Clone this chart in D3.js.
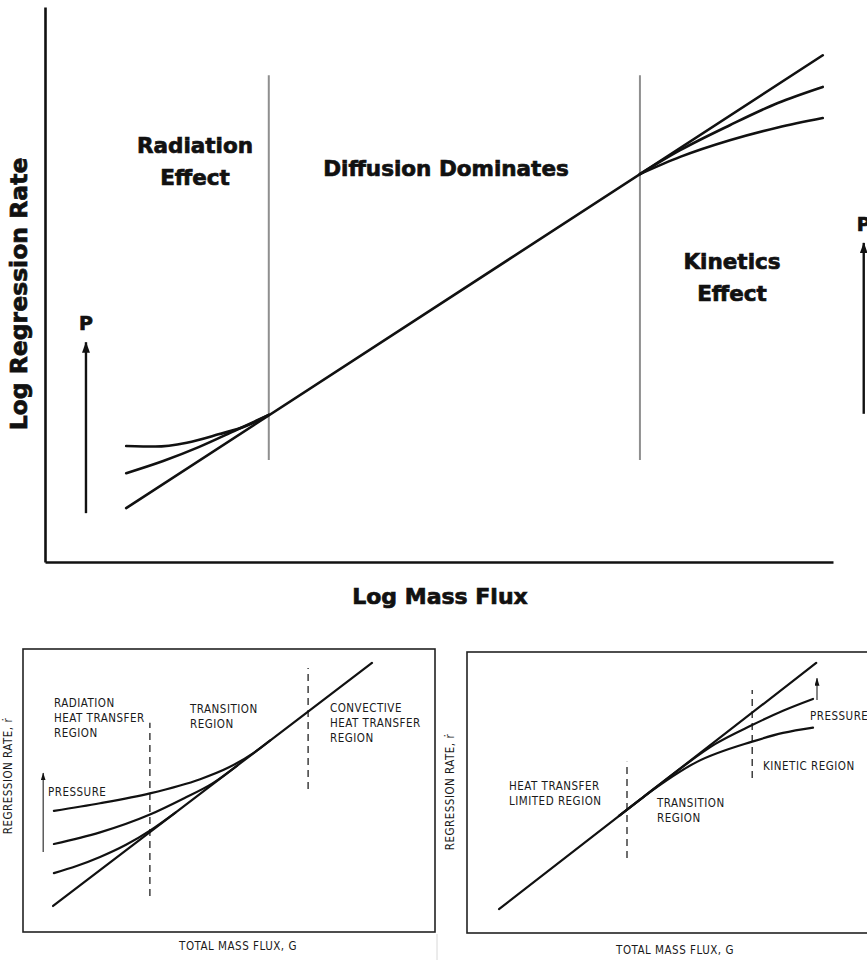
<!DOCTYPE html>
<html>
<head>
<meta charset="utf-8">
<script src="https://cdn.jsdelivr.net/npm/d3@7"></script>
<style>
  html, body { margin: 0; padding: 0; background: #fff; }
  svg { display: block; }
</style>
</head>
<body>
<svg id="chart" width="867" height="960"></svg>
<script>
// ---------- Upper panel: log regression rate vs log mass flux (schematic units 0-10) ----------
const upperDiffusionLine = [[1.03, 0.97], [9.87, 9.13]];
const upperRadiationCurves = [
  [[1.03, 2.09], [1.40, 2.08], [1.80, 2.15], [2.20, 2.30], [2.55, 2.45], [2.84, 2.65]],
  [[1.03, 1.60], [1.50, 1.82], [1.95, 2.07], [2.40, 2.36], [2.84, 2.65]]
];
const upperKineticsCurves = [
  [[7.55, 6.99], [8.06, 7.42], [8.69, 7.87], [9.30, 8.27], [9.87, 8.56]],
  [[7.55, 6.99], [8.06, 7.30], [8.69, 7.60], [9.30, 7.83], [9.87, 8.00]]
];
const upperBoundaries = [2.84, 7.55];
const upperBoundarySpan = [1.84, 8.77];
const upperPressureArrows = [
  { x: 0.52, from: 0.88, to: 3.96 },
  { x: 10.39, from: 2.67, to: 5.75 }
];
const upperRegionLabels = [
  { lines: ["Radiation", "Effect"] },
  { lines: ["Diffusion Dominates"] },
  { lines: ["Kinetics", "Effect"] }
];
const upperAxisTitles = ["Log Mass Flux", "Log Regression Rate"];

// ---------- Lower-left panel: radiation / convective heat transfer ----------
const leftConvectiveLine = [[0.73, 0.92], [8.47, 9.51]];
const leftPressureCurves = [
  [[0.75, 4.28], [1.87, 4.55], [3.08, 4.90], [4.30, 5.40], [5.00, 5.82], [5.60, 6.33], [6.00, 6.77]],
  [[0.75, 3.11], [1.87, 3.52], [3.08, 4.15], [3.90, 4.72], [4.60, 5.25], [5.20, 5.88]],
  [[0.75, 2.08], [1.30, 2.33], [1.87, 2.65], [2.50, 3.08], [3.10, 3.60], [3.70, 4.22]]
];
const leftBoundaries = [
  { x: 3.08, from: 1.27, to: 7.39 },
  { x: 6.92, from: 5.05, to: 9.33 }
];
const leftPressureArrow = { x: 0.49, from: 2.83, to: 5.62 };
const leftRegionLabels = [
  ["RADIATION", "HEAT TRANSFER", "REGION"],
  ["TRANSITION", "REGION"],
  ["CONVECTIVE", "HEAT TRANSFER", "REGION"]
];

// ---------- Lower-right panel: heat-transfer limited vs kinetic ----------
const rightHeatTransferLine = [[0.80, 0.85], [8.73, 9.61]];
const rightPressureCurves = [
  [[3.80, 4.17], [4.40, 4.83], [5.20, 5.71], [6.20, 6.72], [7.13, 7.40], [7.90, 7.91], [8.65, 8.33]],
  [[3.80, 4.17], [4.40, 4.83], [5.75, 6.09], [7.13, 6.81], [7.90, 7.12], [8.65, 7.31]]
];
const rightBoundaries = [
  { x: 4.00, from: 2.67, to: 6.09 },
  { x: 7.13, from: 5.52, to: 8.65 }
];
const rightPressureArrow = { x: 8.75, from: 8.29, to: 9.07 };
const rightRegionLabels = [
  ["HEAT TRANSFER", "LIMITED REGION"],
  ["TRANSITION", "REGION"],
  ["KINETIC REGION"],
  ["PRESSURE"]
];
const lowerAxisTitles = ["TOTAL MASS FLUX, G", "REGRESSION RATE, \u1E59"];

// ---------- drawing ----------
const svg = d3.select("#chart");
const boldFont = "'DejaVu Sans', 'Liberation Sans', sans-serif";
const typeFont = "'Liberation Sans Narrow', 'DejaVu Sans Condensed', 'Liberation Sans', sans-serif";

const defs = svg.append("defs");
function arrowHead(id, len, wid) {
  defs.append("marker")
    .attr("id", id)
    .attr("viewBox", `0 0 ${len} ${wid}`)
    .attr("refX", len - 0.5).attr("refY", wid / 2)
    .attr("markerWidth", len).attr("markerHeight", wid)
    .attr("markerUnits", "userSpaceOnUse")
    .attr("orient", "auto")
    .append("path").attr("d", `M0,0 L${len},${wid / 2} L0,${wid} Z`).attr("fill", "#111");
}
arrowHead("headLarge", 11, 8);
arrowHead("headSmall", 8, 5);

function drawCurve(g, x, y, pts, width, curve) {
  const gen = d3.line().x(d => x(d[0])).y(d => y(d[1])).curve(curve || d3.curveMonotoneX);
  g.append("path").attr("d", gen(pts))
    .attr("fill", "none").attr("stroke", "#111").attr("stroke-width", width)
    .attr("stroke-linecap", "round");
}

function heavyText(sel, size) {
  return sel.attr("font-family", boldFont).attr("font-weight", "bold")
    .attr("font-size", size).attr("fill", "#111")
    .attr("stroke", "#111").attr("stroke-width", 0.7).attr("paint-order", "stroke");
}

// Upper panel
{
  const x = d3.scaleLinear().domain([0, 10]).range([45, 833]);
  const y = d3.scaleLinear().domain([0, 10]).range([562, 7]);
  const g = svg.append("g");

  g.append("g").attr("transform", `translate(0,${y(0)})`)
    .call(d3.axisBottom(x).ticks(0).tickSizeOuter(0))
    .call(s => s.select(".domain").attr("stroke", "#111").attr("stroke-width", 2.6));
  g.append("g").attr("transform", `translate(${x(0)},0)`)
    .call(d3.axisLeft(y).ticks(0).tickSizeOuter(0))
    .call(s => s.select(".domain").attr("stroke", "#111").attr("stroke-width", 2.6));

  upperBoundaries.forEach(b => {
    g.append("line").attr("x1", x(b)).attr("x2", x(b))
      .attr("y1", y(upperBoundarySpan[0])).attr("y2", y(upperBoundarySpan[1]))
      .attr("stroke", "#8f8f8f").attr("stroke-width", 2);
  });

  drawCurve(g, x, y, upperDiffusionLine, 2.6, d3.curveLinear);
  upperRadiationCurves.forEach(c => drawCurve(g, x, y, c, 2.6));
  upperKineticsCurves.forEach(c => drawCurve(g, x, y, c, 2.6));

  upperPressureArrows.forEach(a => {
    g.append("line").attr("x1", x(a.x)).attr("x2", x(a.x))
      .attr("y1", y(a.from)).attr("y2", y(a.to))
      .attr("stroke", "#111").attr("stroke-width", 2.4)
      .attr("marker-end", "url(#headLarge)");
    heavyText(g.append("text").attr("x", x(a.x)).attr("y", y(a.to) - 12)
      .attr("text-anchor", "middle"), 19).text("P");
  });

  const labelPos = [[195, 153], [446, 176], [732, 269]];
  upperRegionLabels.forEach((l, i) => {
    const t = heavyText(g.append("text").attr("text-anchor", "middle"), 21.5);
    l.lines.forEach((s, j) => t.append("tspan").attr("x", labelPos[i][0])
      .attr("y", labelPos[i][1] + j * 32).text(s));
  });

  heavyText(g.append("text").attr("x", 440).attr("y", 604).attr("text-anchor", "middle"), 22)
    .text(upperAxisTitles[0]);
  heavyText(g.append("text").attr("transform", "translate(27,294) rotate(-90)")
    .attr("text-anchor", "middle"), 23.5)
    .text(upperAxisTitles[1]);
}

function lowerText(g, px, py, lines, anchor) {
  const t = g.append("text").attr("text-anchor", anchor || "start")
    .attr("font-family", typeFont).attr("font-size", 11.5)
    .attr("letter-spacing", 0.5).attr("fill", "#1a1a1a");
  lines.forEach((s, j) => t.append("tspan").attr("x", px).attr("y", py + j * 15).text(s));
  return t;
}

function lowerFrame(g, x, y, right) {
  g.append("rect").attr("x", x(0)).attr("y", y(10))
    .attr("width", (right || x(10)) - x(0)).attr("height", y(0) - y(10))
    .attr("fill", "none").attr("stroke", "#222").attr("stroke-width", 1.6);
}

// Lower-left panel
{
  const x = d3.scaleLinear().domain([0, 10]).range([23, 435]);
  const y = d3.scaleLinear().domain([0, 10]).range([932, 649]);
  const g = svg.append("g");
  lowerFrame(g, x, y);

  leftBoundaries.forEach(b => {
    g.append("line").attr("x1", x(b.x)).attr("x2", x(b.x))
      .attr("y1", y(b.from)).attr("y2", y(b.to))
      .attr("stroke", "#222").attr("stroke-width", 1.3).attr("stroke-dasharray", "7,5");
  });
  drawCurve(g, x, y, leftConvectiveLine, 2.2, d3.curveLinear);
  leftPressureCurves.forEach(c => drawCurve(g, x, y, c, 2.2));

  g.append("line").attr("x1", x(leftPressureArrow.x)).attr("x2", x(leftPressureArrow.x))
    .attr("y1", y(leftPressureArrow.from)).attr("y2", y(leftPressureArrow.to))
    .attr("stroke", "#333").attr("stroke-width", 1.2)
    .attr("marker-end", "url(#headSmall)");

  lowerText(g, 54, 707, leftRegionLabels[0]);
  lowerText(g, 190, 713, leftRegionLabels[1]);
  lowerText(g, 330, 712, leftRegionLabels[2]);
  lowerText(g, 48, 796, ["PRESSURE"]);
  lowerText(g, 238, 950, [lowerAxisTitles[0]], "middle");
  g.append("text").attr("transform", "translate(12,776) rotate(-90)")
    .attr("text-anchor", "middle").attr("font-family", typeFont).attr("font-size", 11.5)
    .attr("letter-spacing", 0.5).attr("fill", "#1a1a1a").text(lowerAxisTitles[1]);
}

// faint seam between the two lower panels
svg.append("line").attr("x1", 437).attr("x2", 437).attr("y1", 934).attr("y2", 960)
  .attr("stroke", "#d8d8d8").attr("stroke-width", 1);

// Lower-right panel
{
  const x = d3.scaleLinear().domain([0, 10]).range([467, 867]);
  const y = d3.scaleLinear().domain([0, 10]).range([933, 652]);
  const g = svg.append("g");
  lowerFrame(g, x, y, 880);

  rightBoundaries.forEach(b => {
    g.append("line").attr("x1", x(b.x)).attr("x2", x(b.x))
      .attr("y1", y(b.from)).attr("y2", y(b.to))
      .attr("stroke", "#222").attr("stroke-width", 1.3).attr("stroke-dasharray", "7,5");
  });
  drawCurve(g, x, y, rightHeatTransferLine, 2.2, d3.curveLinear);
  rightPressureCurves.forEach(c => drawCurve(g, x, y, c, 2.2));

  g.append("line").attr("x1", x(rightPressureArrow.x)).attr("x2", x(rightPressureArrow.x))
    .attr("y1", y(rightPressureArrow.from)).attr("y2", y(rightPressureArrow.to))
    .attr("stroke", "#333").attr("stroke-width", 1.2)
    .attr("marker-end", "url(#headSmall)");

  lowerText(g, 509, 790, rightRegionLabels[0]);
  lowerText(g, 657, 807, rightRegionLabels[1]);
  lowerText(g, 763, 770, rightRegionLabels[2]);
  lowerText(g, 810, 720, rightRegionLabels[3]);
  lowerText(g, 675, 954, [lowerAxisTitles[0]], "middle");
  g.append("text").attr("transform", "translate(454,792) rotate(-90)")
    .attr("text-anchor", "middle").attr("font-family", typeFont).attr("font-size", 11.5)
    .attr("letter-spacing", 0.5).attr("fill", "#1a1a1a").text(lowerAxisTitles[1]);
}
</script>
</body>
</html>
